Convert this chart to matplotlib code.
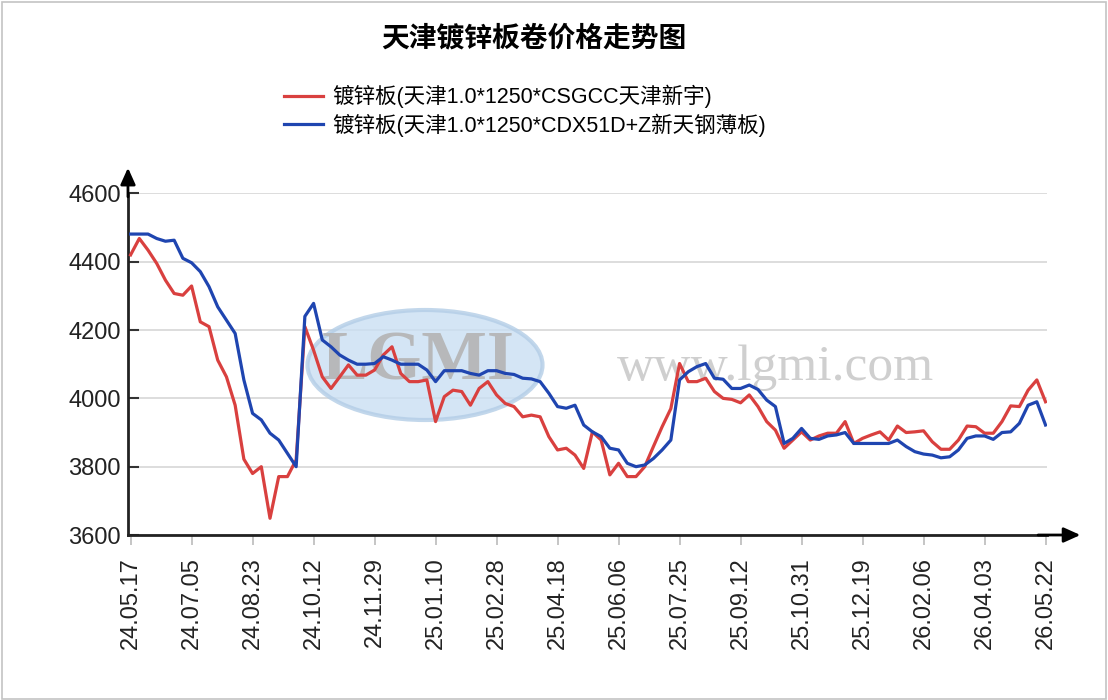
import matplotlib
matplotlib.use('Agg')
import matplotlib.pyplot as plt
from matplotlib.patches import Ellipse, Rectangle

plt.rcParams['font.family'] = ['Liberation Sans', 'Noto Sans CJK SC']

# 周度价格 (元/吨), 2024-05-17 起
red_vals = [4420, 4468, 4434, 4395, 4346, 4307, 4302, 4329, 4224, 4210,
            4112, 4063, 3980, 3822, 3780, 3800, 3649, 3771, 3771, 3820,
            4210, 4141, 4063, 4029, 4063, 4098, 4068, 4068, 4083, 4127,
            4151, 4073, 4049, 4049, 4054, 3932, 4005, 4024, 4020, 3980,
            4029, 4049, 4010, 3985, 3976, 3946, 3951, 3946, 3888, 3849,
            3854, 3834, 3795, 3902, 3878, 3776, 3810, 3771, 3771, 3800,
            3859, 3917, 3970, 4102, 4049, 4049, 4059, 4020, 4000, 3997,
            3987, 4010, 3976, 3932, 3907, 3854, 3878, 3902, 3878, 3890,
            3898, 3898, 3932, 3868, 3883, 3893, 3902, 3878, 3919, 3900,
            3902, 3905, 3873, 3851, 3851, 3878, 3919, 3917, 3898, 3898,
            3932, 3978, 3976, 4024, 4054, 3990]
blue_vals = [4481, 4481, 4481, 4468, 4460, 4463, 4410, 4397, 4371, 4327,
             4268, 4229, 4190, 4054, 3956, 3937, 3898, 3878, 3839, 3800,
             4240, 4278, 4171, 4151, 4127, 4112, 4100, 4100, 4102, 4122,
             4112, 4100, 4100, 4100, 4083, 4049, 4081, 4081, 4081, 4073,
             4068, 4081, 4081, 4073, 4070, 4059, 4057, 4049, 4015, 3976,
             3971, 3980, 3922, 3902, 3888, 3854, 3849, 3810, 3800, 3805,
             3824, 3849, 3878, 4054, 4078, 4093, 4102, 4059, 4056, 4029,
             4029, 4039, 4026, 3995, 3976, 3868, 3883, 3912, 3883, 3880,
             3890, 3893, 3900, 3868, 3868, 3868, 3868, 3868, 3878, 3859,
             3844, 3837, 3834, 3826, 3829, 3849, 3883, 3890, 3890, 3880,
             3900, 3902, 3927, 3980, 3990, 3922]
tick_labels = ['24.05.17', '24.07.05', '24.08.23', '24.10.12', '24.11.29',
               '25.01.10', '25.02.28', '25.04.18', '25.06.06', '25.07.25',
               '25.09.12', '25.10.31', '25.12.19', '26.02.06', '26.04.03',
               '26.05.22']
y_ticks = [3600, 3800, 4000, 4200, 4400, 4600]
red_name = '镀锌板(天津1.0*1250*CSGCC天津新宇)'
blue_name = '镀锌板(天津1.0*1250*CDX51D+Z新天钢薄板)'

weeks = list(range(len(red_vals)))
tick_pos = weeks[::7]

fig = plt.figure(figsize=(11.08, 7), dpi=100)
ax = fig.add_axes([0.1155, 0.2357, 0.8297, 0.488])

# 水印
ax.add_patch(Ellipse((425 / 1108, 1 - 365 / 700), 235 / 1108, 110 / 700,
                     transform=fig.transFigure, facecolor='#cadff3',
                     edgecolor='#b3cde6', lw=3, alpha=0.8, zorder=0.6))
ax.text(418 / 1108, 1 - 362 / 700, 'LGMI', transform=fig.transFigure,
        family='Liberation Serif', fontweight='bold', fontsize=50,
        color='#b4b4b4', ha='center', va='center', alpha=0.9, zorder=0.7)
ax.text(775 / 1108, 1 - 368 / 700, 'www.lgmi.com', transform=fig.transFigure,
        family='Liberation Serif', fontsize=37, color='#cfcfcf',
        ha='center', va='center', zorder=0.7)

ax.plot(weeks, red_vals, color='#d9403f', lw=2.3, zorder=3, label=red_name,
        solid_joinstyle='round')
ax.plot(weeks, blue_vals, color='#1f45b0', lw=2.3, zorder=3, label=blue_name,
        solid_joinstyle='round')

ax.set_xlim(-0.3, 105.2)
ax.set_ylim(3600, 4600)
ax.set_yticks(y_ticks)
ax.set_xticks(tick_pos)
ax.set_xticklabels(tick_labels, rotation=90)
ax.grid(axis='y', color='#dadada', lw=1.3)
ax.set_axisbelow(True)

for s in ['top', 'right']:
    ax.spines[s].set_visible(False)
for s in ['left', 'bottom']:
    ax.spines[s].set_color('#222222')
    ax.spines[s].set_linewidth(2)

ax.tick_params(axis='y', direction='in', length=8, width=1.5, color='#333333',
               labelsize=17, labelcolor='#222222', pad=5)
ax.tick_params(axis='x', direction='out', length=7, width=1.2, color='#bbbbbb',
               labelsize=17, labelcolor='#222222', pad=9)

# 坐标轴箭头
ax.annotate('', xy=(1.036, 0), xytext=(0.99, 0), xycoords='axes fraction',
            annotation_clip=False,
            arrowprops=dict(arrowstyle='-|>,head_width=0.45,head_length=1.0',
                            color='black', lw=2, shrinkA=0, shrinkB=0))
ax.annotate('', xy=(0, 1.075), xytext=(0, 0.99), xycoords='axes fraction',
            annotation_clip=False,
            arrowprops=dict(arrowstyle='-|>,head_width=0.45,head_length=1.0',
                            color='black', lw=2, shrinkA=0, shrinkB=0))

fig.text(534 / 1108, 1 - 38 / 700, '天津镀锌板卷价格走势图', ha='center',
         va='center', fontsize=20, fontweight='bold',
         family=['Noto Sans CJK SC', 'DejaVu Sans'])

fig.legend(loc='center', bbox_to_anchor=(525 / 1108, 1 - 111 / 700),
           frameon=False, fontsize=15.5, handlelength=1.8, handletextpad=0.45,
           labelspacing=0.25, borderpad=0)

fig.patches.append(Rectangle((0.002, 0.002), 0.996, 0.995, fill=False,
                             edgecolor='#c4c4c4', lw=1.2,
                             transform=fig.transFigure, figure=fig))

fig.savefig('out.png', dpi=100)
